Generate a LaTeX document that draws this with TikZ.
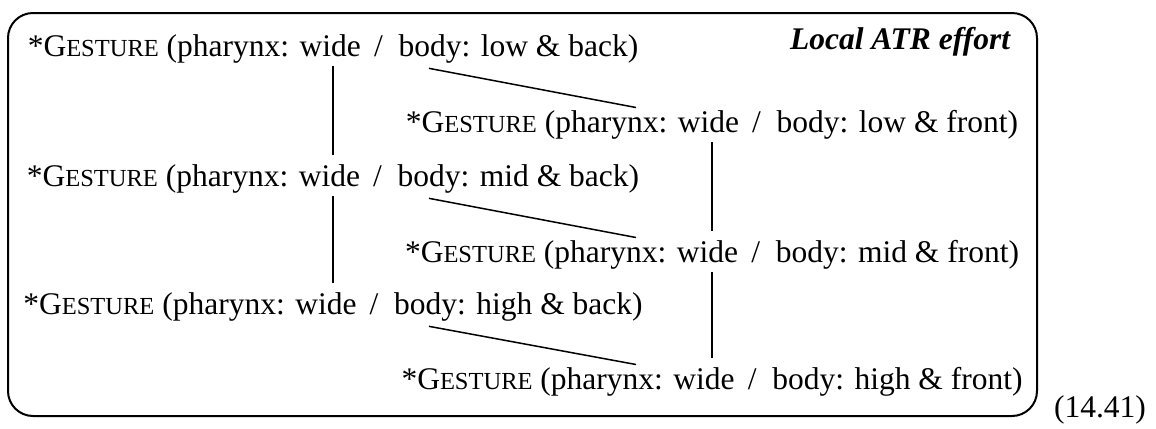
\documentclass[tikz,border=0pt]{standalone}
\usepackage{fontspec}
\setmainfont{Liberation Serif}
\usetikzlibrary{calc,positioning}

% fake small caps: Liberation Serif has none
\newcommand{\gst}{*G{\fontsize{9.8pt}{11pt}\selectfont ESTURE}}
\newcommand{\gline}[2]{\gst{} (pharynx: wide\ \,/\ \ body: #1 \& #2)}

\begin{document}
\begin{tikzpicture}[
  x=0.4pt, y=-0.4pt,
  gest/.style={inner sep=1pt, font=\fontsize{12.6pt}{14pt}\selectfont},
  tag/.style={gest, font=\fontsize{12.6pt}{14pt}\selectfont\bfseries\itshape},
  link/.style={line width=0.6pt},
  vlink/.style={link, shorten >=2.6pt},
  boxframe/.style={draw, line width=0.8pt, rounded corners=10pt}
]
  \useasboundingbox (0,0) rectangle (1156,428);
  \draw[boxframe] (8,13) rectangle (1037,416);

  % back column
  \node[gest] (b1) at (333,49) {\gline{low}{back}};
  \node[gest] (b2) at (333,179) {\gline{mid}{back}};
  \node[gest] (b3) at (333,307) {\gline{high}{back}};
  % front column
  \node[gest] (f1) at (712,125) {\gline{low}{front}};
  \node[gest] (f2) at (712,255) {\gline{mid}{front}};
  \node[gest] (f3) at (712,382) {\gline{high}{front}};

  \node[tag, anchor=east] (atr) at (1013,42) {Local ATR effort};
  \node[gest] (num) at (1100,410) {(14.41)};

  \draw[vlink] (b1.south) -- (b2.north);
  \draw[vlink] (b2.south) -- (b3.north);
  \draw[vlink] (f1.south) -- (f2.north);
  \draw[vlink] (f2.south) -- (f3.north);
  \draw[link] ($(b1.south)+(96,2)$) -- ($(f1.north)+(-76,0)$);
  \draw[link] ($(b2.south)+(96,2)$) -- ($(f2.north)+(-76,0)$);
  \draw[link] ($(b3.south)+(96,2)$) -- ($(f3.north)+(-76,0)$);
\end{tikzpicture}
\end{document}
